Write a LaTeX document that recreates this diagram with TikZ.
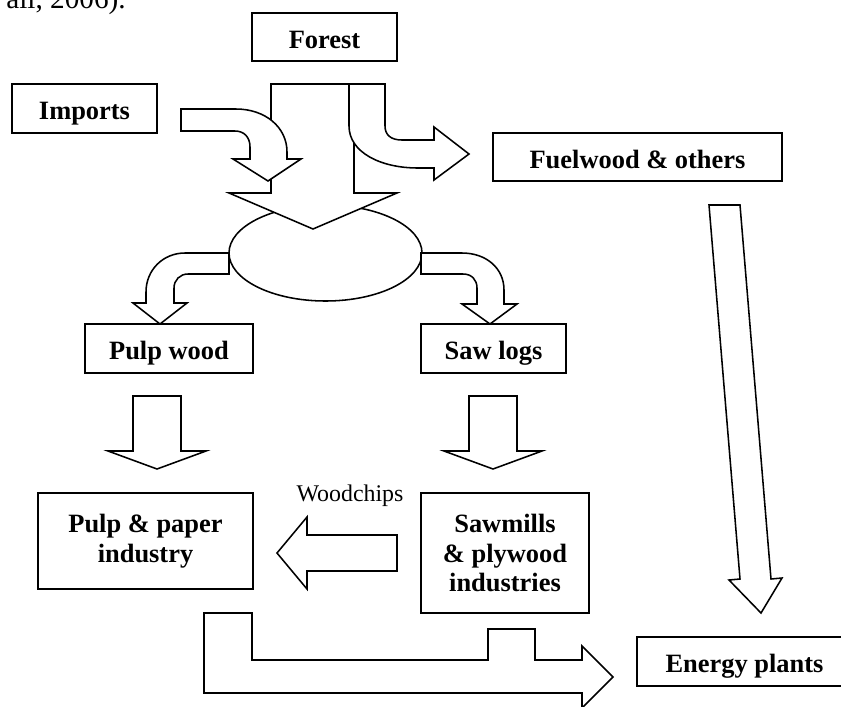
\documentclass[tikz,border=0pt]{standalone}
\usepackage{fontspec}
\setmainfont{Liberation Serif}

\begin{document}
\begin{tikzpicture}[x=0.025cm, y=-0.025cm,
  box/.style = {draw, line width=1.4pt, align=center,
    font=\bfseries\fontsize{18.8}{21.3}\selectfont},
  oneline/.style = {text height=19.7pt, text depth=3.4pt},
  flow/.style = {draw, fill=white, line width=1.1pt}]
  \clip (0,0) rectangle (841,706);
  \node[anchor=base east, inner sep=0pt, font=\fontsize{20.8}{25}\selectfont] (cite) at (126,8.3) {all, 2006).};
  % boxes
  \node[box, oneline, minimum width=3.625cm, minimum height=1.2cm] (forest) at (324.5,37) {Forest};
  \node[box, oneline, minimum width=3.625cm, minimum height=1.225cm] (imports) at (84.5,108.5) {Imports};
  \node[box, oneline, minimum width=7.225cm, minimum height=1.2cm] (fuel) at (637.5,157) {Fuelwood \& others};
  \node[box, oneline, minimum width=4.2cm, minimum height=1.225cm] (pulpwood) at (169,348.5) {Pulp wood};
  \node[box, oneline, minimum width=3.625cm, minimum height=1.225cm] (sawlogs) at (493.5,348.5) {Saw logs};
  \node[box, minimum width=5.375cm, minimum height=2.4cm] (paper) at (145.5,541) {Pulp \& paper\\industry};
  \node[box, minimum width=4.2cm, minimum height=3cm] (sawmills) at (505,553) {Sawmills\\\& plywood\\industries};
  \node[box, oneline, minimum width=5.375cm, minimum height=1.225cm] (energy) at (744.5,661.5) {Energy plants};
  \node[anchor=base, inner sep=0pt, font=\fontsize{17}{20}\selectfont] (chips) at (350,501) {Woodchips};
  % pool and the flows into it
  \draw[flow] (325.5,253) ellipse [x radius=96.5, y radius=48];
  \draw[flow] (271,84) -- (354,84) -- (354,193) -- (397,193) -- (313,229) -- (229,193) -- (271,193) -- cycle;
  \draw[flow] (349,84) -- (385,84) -- (385,126) .. controls (385,135) and (391,140) .. (402,140)
    -- (434,140) -- (434,127) -- (469,154) -- (434,180) -- (434,168) -- (418,168)
    .. controls (380,168) and (349,152) .. (349,126) -- cycle;
  \draw[flow] (181,109) -- (236,109) .. controls (265,109) and (287,127) .. (287,152)
    -- (287,159) -- (301,159) -- (268,181) -- (233,159) -- (250,159) -- (250,147)
    .. controls (250,137) and (244,131) .. (235,131) -- (181,131) -- cycle;
  % flows out of the pool
  \draw[flow] (229,253) -- (185,253) .. controls (163,253) and (146,270) .. (146,292)
    -- (146,303) -- (133,303) -- (160,324) -- (187,303) -- (174,303) -- (174,288)
    .. controls (174,280) and (180,274) .. (188,274) -- (229,274) -- cycle;
  \draw[flow] (421,253) -- (462,253) .. controls (486,253) and (504,268) .. (504,290)
    -- (504,304) -- (517,304) -- (490,324) -- (462,304) -- (477,304) -- (477,288)
    .. controls (477,280) and (472,274) .. (463,274) -- (421,274) -- cycle;
  \foreach \cx in {157,493}
    \draw[flow] (\cx-24,396) -- (\cx+24,396) -- (\cx+24,451) -- (\cx+49,451) -- (\cx,469)
      -- (\cx-49,451) -- (\cx-24,451) -- cycle;
  % woodchips, residues and fuelwood
  \draw[flow] (397,535) -- (397,571) -- (307,571) -- (307,589) -- (277,553) -- (307,517) -- (307,535) -- cycle;
  \draw[flow] (204,613) -- (252,613) -- (252,660) -- (488,660) -- (488,629) -- (535,629) -- (535,660)
    -- (582,660) -- (582,646) -- (613,677) -- (582,708) -- (582,693) -- (204,693) -- cycle;
  \draw[flow] (709,205) -- (740,205) -- (771,579) -- (782,578) -- (761,613) -- (729,580) -- (740,579) -- cycle;
\end{tikzpicture}
\end{document}
